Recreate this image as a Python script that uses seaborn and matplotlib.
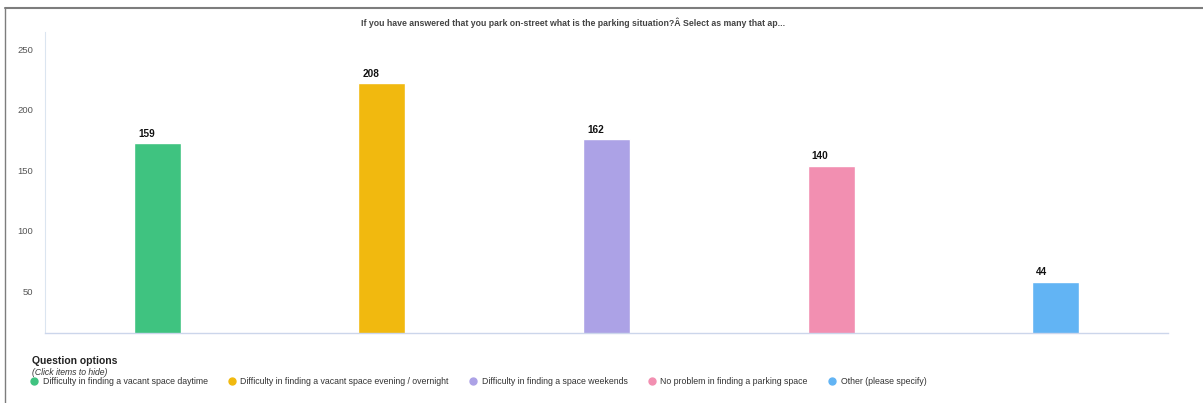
import matplotlib
matplotlib.use("Agg")
import matplotlib.pyplot as plt
from matplotlib.lines import Line2D
import seaborn as sns
import pandas as pd

# ---- data ----
categories = [
    "Difficulty in finding a vacant space daytime",
    "Difficulty in finding a vacant space evening / overnight",
    "Difficulty in finding a space weekends",
    "No problem in finding a parking space",
    "Other (please specify)",
]
counts = [159, 208, 162, 140, 44]
colors = ["#3fc380", "#f1b90f", "#aca2e6", "#f28fb1", "#62b4f4"]
tick_labels = [50, 100, 150, 200, 250]
title = ("If you have answered that you park on-street what is the parking "
         "situation?\u00c2 Select as many that ap...")

df = pd.DataFrame({"option": categories, "count": counts})

sns.set_theme(style="white")
plt.rcParams["font.family"] = ["Liberation Sans", "DejaVu Sans"]

fig = plt.figure(figsize=(12.03, 4.03), dpi=100)
ax = fig.add_axes([45 / 1203, 1 - 333 / 403, (1168 - 45) / 1203, (333 - 32) / 403])

sns.barplot(data=df, x="option", y="count", hue="option", palette=colors,
            width=0.21, dodge=False, legend=False, ax=ax, saturation=1)

ax.set_xlim(-0.5, len(categories) - 0.5)
ax.set_ylim(1.5, 250.6)
# the original chart's y labels sit about 14 units below their nominal value
label_shift = 13.8
ax.set_yticks([t - label_shift for t in tick_labels])
ax.set_yticklabels([str(t) for t in tick_labels], color="#555555",
                   fontsize=6.8)
ax.set_xticks([])
ax.set_xlabel("")
ax.set_ylabel("")
ax.tick_params(axis="y", length=0, pad=8.5)
for s in ["top", "right"]:
    ax.spines[s].set_visible(False)
ax.spines["left"].set_color("#dbe5f0")
ax.spines["left"].set_linewidth(0.8)
ax.spines["bottom"].set_color("#ccd6eb")
ax.spines["bottom"].set_linewidth(1.0)

# data labels above bars (left-aligned near bar edge, as in the original)
for patch, val in zip(ax.patches, counts):
    ax.annotate(str(val), (patch.get_x(), patch.get_height()),
                xytext=(3, 3), textcoords="offset points",
                ha="left", va="bottom", fontsize=7.2, fontweight="bold",
                color="#111111")

fig.text(0.476, 1 - 23 / 403, title, ha="center", va="center",
         fontsize=6.3, fontweight="bold", color="#444444")

# legend area
fig.text(32 / 1203, 1 - 361 / 403, "Question options", ha="left", va="center",
         fontsize=7.5, fontweight="bold", color="#222222")
fig.text(32 / 1203, 1 - 372.5 / 403, "(Click items to hide)", ha="left",
         va="center", fontsize=6.2, style="italic", color="#333333")

handles = [Line2D([0], [0], marker="o", linestyle="", markersize=5,
                  markerfacecolor=c, markeredgecolor=c) for c in colors]
leg = fig.legend(handles, categories, ncol=5, loc="center left",
                 bbox_to_anchor=(30 / 1203, 1 - 382 / 403), frameon=False,
                 fontsize=6.3, handletextpad=0.45, columnspacing=2.3,
                 handlelength=1.0, borderaxespad=0, borderpad=0)
for t in leg.get_texts():
    t.set_color("#333333")

# outer frame (top and left edges)
fig.add_artist(Line2D([5 / 1203, 1.0], [1 - 8 / 403, 1 - 8 / 403],
                      transform=fig.transFigure, color="#7d7d7d", lw=1.5))
fig.add_artist(Line2D([5 / 1203, 5 / 1203], [1 - 8 / 403, 0.0],
                      transform=fig.transFigure, color="#7d7d7d", lw=1.0))

fig.savefig("out.png", dpi=100, facecolor="white")
